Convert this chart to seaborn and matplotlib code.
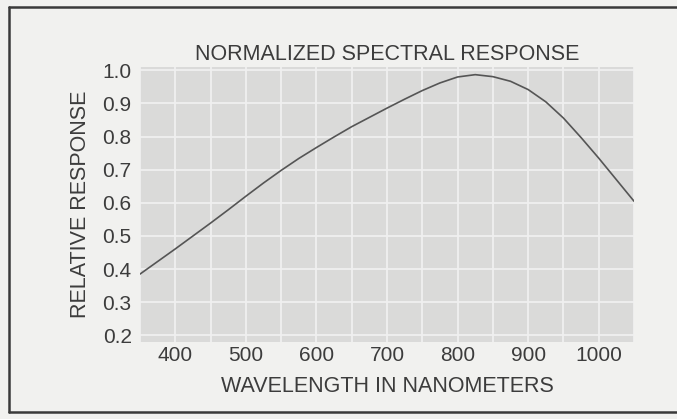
import numpy as np
import pandas as pd
import matplotlib.pyplot as plt
import seaborn as sns
from matplotlib.lines import Line2D
from matplotlib.ticker import MultipleLocator

# values
wavelength = [350, 375, 400, 425, 450, 475, 500, 525, 550, 575, 600, 625, 650,
              675, 700, 725, 750, 775, 800, 825, 850, 875, 900, 925, 950, 975,
              1000, 1025, 1050]
response = [0.385, 0.423, 0.461, 0.500, 0.539, 0.579, 0.620, 0.660, 0.698,
            0.734, 0.767, 0.799, 0.830, 0.858, 0.886, 0.913, 0.939, 0.962,
            0.980, 0.987, 0.981, 0.967, 0.942, 0.905, 0.856, 0.797, 0.735,
            0.670, 0.605]
x_ticks = [400, 500, 600, 700, 800, 900, 1000]
y_ticks = [0.2, 0.3, 0.4, 0.5, 0.6, 0.7, 0.8, 0.9, 1.0]

df = pd.DataFrame({"Wavelength": wavelength, "Response": response})

text_color = "#3c3c3c"
paper = "#f1f1ef"

sns.set_theme(
    style="darkgrid",
    rc={
        "axes.facecolor": "#dadad9",
        "figure.facecolor": paper,
        "figure.edgecolor": paper,
        "grid.color": "#f0f0f0",
        "grid.linewidth": 1.3,
        "axes.edgecolor": paper,
        "text.color": text_color,
        "axes.labelcolor": text_color,
        "xtick.color": text_color,
        "ytick.color": text_color,
    },
)
plt.rcParams["font.family"] = ["Liberation Sans", "DejaVu Sans"]

fig = plt.figure(figsize=(6.77, 4.19), dpi=100)
ax = fig.add_axes([0.2068, 0.1838, 0.7297, 0.6562])

sns.lineplot(data=df, x="Wavelength", y="Response", ax=ax,
             color="#555555", linewidth=1.2)

ax.set_xlim(350, 1050)
ax.set_ylim(0.18, 1.01)
ax.set_xticks(x_ticks)
ax.set_xticklabels([str(v) for v in x_ticks])
ax.set_yticks(y_ticks)
ax.set_yticklabels([f"{v:.1f}" for v in y_ticks])
ax.xaxis.set_minor_locator(MultipleLocator(50))
ax.grid(which="minor", axis="x", color="#f0f0f0", linewidth=1.3)
ax.tick_params(axis="both", which="both", length=0, labelsize=15)
ax.tick_params(axis="x", pad=3)
ax.tick_params(axis="y", pad=6)

for spine in ax.spines.values():
    spine.set_visible(False)

ax.set_title("NORMALIZED SPECTRAL RESPONSE", fontsize=15.5, pad=5,
             color=text_color)
ax.set_xlabel("WAVELENGTH IN NANOMETERS", fontsize=15.5, labelpad=8)
ax.set_ylabel("RELATIVE RESPONSE", fontsize=15.5, labelpad=8)

# frame of the scanned page
W, H = 677, 419
frame = dict(color="#3a3a3a", linewidth=1.8, transform=fig.transFigure)
fig.add_artist(Line2D([9 / W, 9 / W], [1 - 7 / H, 1 - 412 / H], **frame))
fig.add_artist(Line2D([9 / W, 1.0], [1 - 7 / H, 1 - 7 / H], **frame))
fig.add_artist(Line2D([9 / W, 1.0], [1 - 412 / H, 1 - 412 / H], **frame))

fig.savefig("out.png", dpi=100, facecolor=paper, edgecolor="none")
